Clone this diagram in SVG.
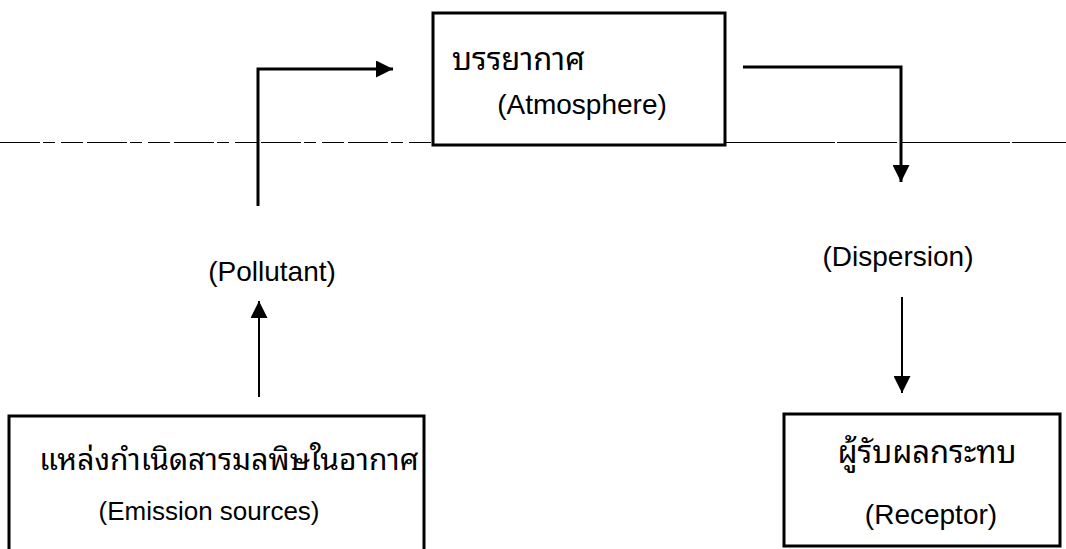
<svg xmlns="http://www.w3.org/2000/svg" width="1066" height="549" viewBox="0 0 1066 549">
<style>
.box{fill:#fff;stroke:#000;stroke-width:3}
.t{font-family:"Liberation Sans","Noto Sans Thai Looped","Noto Sans Thai","Noto Sans",sans-serif;font-size:28px;fill:#000}
.th{font-size:31px}
.c{fill:none;stroke:#000;stroke-width:3}
.scan{stroke:#000;stroke-width:1;fill:none}
</style>
<defs>
<marker id="ah" viewBox="0 0 10 10" refX="10" refY="5" markerWidth="18" markerHeight="17" markerUnits="userSpaceOnUse" orient="auto">
<path d="M0,0 L10,5 L0,10 Z" fill="#000"/>
</marker>
</defs>
<rect width="1066" height="549" fill="#fff"/>
<path class="scan" d="M0,142.5 H432" stroke-dasharray="40,3,12,6,22,4"/>
<path class="scan" d="M725,142.5 H1066" stroke-dasharray="110,2,60,3"/>
<g id="connectors">
<path class="c" d="M258,206 V69 H393" marker-end="url(#ah)"/>
<path class="c" d="M743,67 H901 V182" marker-end="url(#ah)"/>
<path class="c" d="M259,397 V301" marker-end="url(#ah)" style="stroke-width:2"/>
<path class="c" d="M902,297 V393" marker-end="url(#ah)" style="stroke-width:2"/>
</g>
<g id="atmosphere">
<rect class="box" x="433" y="13" width="292" height="132"/>
<text class="t th" x="452" y="70">บรรยากาศ</text>
<text class="t" x="582" y="114" text-anchor="middle">(Atmosphere)</text>
</g>
<g id="pollutant">
<text class="t" x="272" y="281" text-anchor="middle">(Pollutant)</text>
</g>
<g id="dispersion">
<text class="t" x="898" y="266" text-anchor="middle">(Dispersion)</text>
</g>
<g id="emission">
<rect class="box" x="9" y="416" width="415" height="140"/>
<text class="t" x="229" y="470" text-anchor="middle" style="font-size:30px">แหล่งกำเนิดสารมลพิษในอากาศ</text>
<text class="t" x="209" y="520" text-anchor="middle" style="font-size:26px">(Emission sources)</text>
</g>
<g id="receptor">
<rect class="box" x="784" y="414" width="276" height="132"/>
<text class="t th" x="927" y="463" text-anchor="middle">ผู้รับผลกระทบ</text>
<text class="t" x="931" y="524" text-anchor="middle">(Receptor)</text>
</g>
</svg>
